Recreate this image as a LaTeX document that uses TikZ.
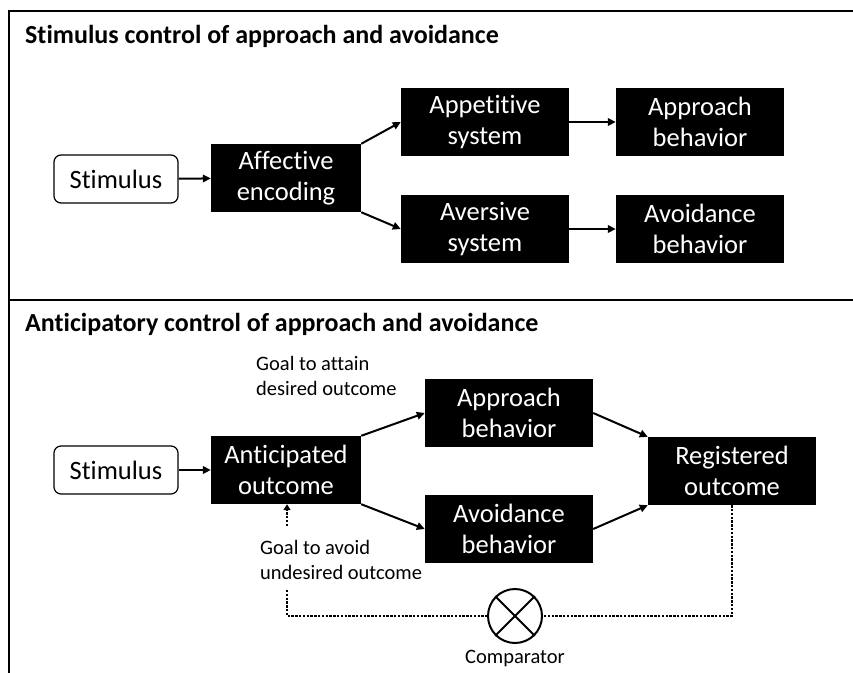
\documentclass[tikz,border=0pt]{standalone}
\usepackage{fontspec}
\setmainfont{Carlito}[Ligatures={NoCommon}]
\usetikzlibrary{positioning,arrows.meta,calc}

\tikzset{
    blackbox/.style={fill=black, text=white, align=center, inner sep=0pt,
        font=\fontsize{26.5}{31}\selectfont, minimum width=168pt, minimum height=68pt},
    stimbox/.style={draw, rounded corners=7pt, line width=1.2pt, inner sep=0pt,
        font=\fontsize{26.5}{31}\selectfont, minimum width=124pt, minimum height=48pt},
    heading/.style={anchor=west, inner sep=0pt, font=\bfseries\fontsize{26}{31}\selectfont},
    note/.style={align=left, inner sep=0pt, font=\fontsize{20.5}{25}\selectfont},
    flow/.style={-{Triangle[length=8pt,width=7.5pt]}, line width=2pt},
    fb/.style={line width=2.6pt, dash pattern=on 2.4pt off 1.4pt},
}

\begin{document}
\begin{tikzpicture}[x=1pt, y=-1pt]
    \useasboundingbox (0,0) rectangle (853,672);

    % 枠
    \draw[line width=2.4pt] (9,690) -- (9,11) -- (870,11);
    \draw[line width=2.4pt] (9,300) -- (870,300);

    % 上段
    \node[heading] (title1) at (25,36) {Stimulus control of approach and avoidance};
    \node[stimbox] (stim1) at (116,179) {Stimulus};
    \node[blackbox, minimum width=150pt] (enc) at (286,178) {Affective\\encoding};
    \node[blackbox] (appsys) at (485,122) {Appetitive\\system};
    \node[blackbox] (avsys) at (485,229) {Aversive\\system};
    \node[blackbox] (appbeh1) at (700,122) {Approach\\behavior};
    \node[blackbox] (avbeh1) at (700,229) {Avoidance\\behavior};

    \draw[flow] (stim1) -- (enc);
    \draw[flow] (enc.north east) -- (appsys.west);
    \draw[flow] (enc.south east) -- (avsys.west);
    \draw[flow] (appsys) -- (appbeh1);
    \draw[flow] (avsys) -- (avbeh1);

    % 下段
    \node[heading] (title2) at (25,324) {Anticipatory control of approach and avoidance};
    \node[stimbox] (stim2) at (116,470) {Stimulus};
    \node[blackbox, minimum width=150pt] (antic) at (286,470) {Anticipated\\outcome};
    \node[blackbox] (appbeh2) at (509,413) {Approach\\behavior};
    \node[blackbox] (avbeh2) at (509,529) {Avoidance\\behavior};
    \node[blackbox] (regout) at (732,471) {Registered\\outcome};
    \node[note, anchor=west] (attain) at (256,376) {Goal to attain\\desired outcome};
    \node[note, anchor=west] (avoid) at (260,560) {Goal to avoid\\undesired outcome};

    \draw[flow] (stim2) -- (antic);
    \draw[flow] (antic.north east) -- (appbeh2.west);
    \draw[flow] (antic.south east) -- (avbeh2.west);
    \draw[flow] (appbeh2.east) -- (regout.north west);
    \draw[flow] (avbeh2.east) -- (regout.south west);

    % 比較器
    \node[draw, circle, line width=2pt, minimum size=54pt, inner sep=0pt] (cmp) at (515,616) {};
    \draw[line width=2pt] (cmp.north west) -- (cmp.south east);
    \draw[line width=2pt] (cmp.north east) -- (cmp.south west);
    \node[note, below=6pt of cmp] (cmplabel) {Comparator};

    \coordinate (up) at (287,526);
    \coordinate (down) at (287,590);
    \draw[fb, -{Triangle[length=6pt,width=7pt]}] (up) -- (antic.south -| up);
    \draw[fb] (down) |- (cmp.west);
    \draw[fb] (regout.south) |- (cmp.east);
\end{tikzpicture}
\end{document}
